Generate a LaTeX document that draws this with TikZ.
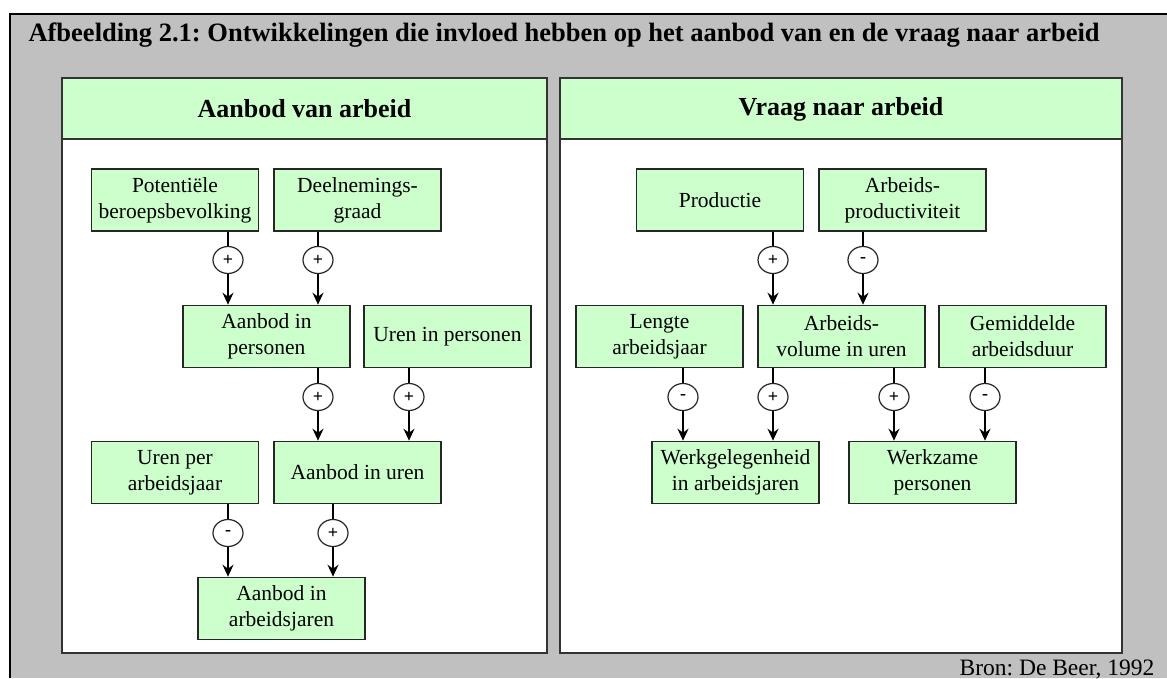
\documentclass[tikz,border=0pt]{standalone}
\usepackage{fontspec}
\setmainfont{Liberation Serif}
\usepackage{tikz}
\usetikzlibrary{arrows.meta,shapes.geometric}
\definecolor{panelgray}{HTML}{C0C0C0}
\definecolor{boxgreen}{HTML}{CCFFCC}
\frenchspacing

\begin{document}
\begin{tikzpicture}[x=1pt,y=-1pt,
    flowbox/.style={draw=black!85, line width=1.6pt, fill=boxgreen, minimum width=167pt, minimum height=62pt, align=center, inner sep=2pt, font=\fontsize{21.5}{26}\selectfont},
    signnode/.style={ellipse, draw=black!85, line width=1.2pt, fill=white, minimum width=30pt, minimum height=27pt, inner sep=0pt, font=\fontsize{18}{18}\selectfont\bfseries},
    panelframe/.style={draw=black!80, line width=2pt},
    flowline/.style={line width=1.6pt},
    flowarrow/.style={line width=1.6pt, -{Stealth[length=12pt,width=11pt,inset=4pt]}}]
    \useasboundingbox (0,0) rectangle (1167,678);
    \fill[panelgray] (10,14) rectangle (1167,678);
    \draw[line width=2.5pt] (1167,14) -- (10,14) -- (10,678);

    % panels
    \draw[panelframe, fill=white] (62,78) rectangle (547,653);
    \draw[panelframe, fill=boxgreen] (62,78) rectangle (547,139);
    \draw[panelframe, fill=white] (560,78) rectangle (1122,653);
    \draw[panelframe, fill=boxgreen] (560,78) rectangle (1122,139);

    \node[anchor=base west, font=\fontsize{26.5}{30}\selectfont\bfseries] (title) at (25,41) {Afbeelding 2.1: Ontwikkelingen die invloed hebben op het aanbod van en de vraag naar arbeid};
    \node[font=\fontsize{26}{30}\selectfont\bfseries] (supplyhead) at (304.5,109) {Aanbod van arbeid};
    \node[font=\fontsize{26}{30}\selectfont\bfseries] (demandhead) at (841,109) {Vraag naar arbeid};
    \node[anchor=base east, font=\fontsize{23.5}{26}\selectfont] (source) at (1158,675) {Bron: De Beer, 1992};

    % aanbod
    \node[flowbox] (pot) at (175,200) {Potentiële\\beroepsbevolking};
    \node[flowbox] (deel) at (357.5,200) {Deelnemings-\\graad};
    \node[flowbox] (aip) at (266.5,336.5) {Aanbod in\\personen};
    \node[flowbox] (uip) at (447.5,336.5) {Uren in personen};
    \node[flowbox] (upa) at (175,472.5) {Uren per\\arbeidsjaar};
    \node[flowbox] (aiu) at (357.5,472.5) {Aanbod in uren};
    \node[flowbox] (aia) at (281.5,608.5) {Aanbod in\\arbeidsjaren};

    \node[signnode] (s1) at (228,260) {+};
    \node[signnode] (s2) at (318,260) {+};
    \node[signnode] (s3) at (318,397) {+};
    \node[signnode] (s4) at (409,397) {+};
    \node[signnode] (s5) at (228,533) {-};
    \node[signnode] (s6) at (333,533) {+};

    % vraag
    \node[flowbox] (prod) at (720,200) {Productie};
    \node[flowbox] (apr) at (902.5,200) {Arbeids-\\productiviteit};
    \node[flowbox] (len) at (659.5,336.5) {Lengte\\arbeidsjaar};
    \node[flowbox] (avu) at (841.5,336.5) {Arbeids-\\volume in uren};
    \node[flowbox] (gem) at (1022.5,336.5) {Gemiddelde\\arbeidsduur};
    \node[flowbox] (wga) at (735.5,472.5) {Werkgelegenheid\\in arbeidsjaren};
    \node[flowbox] (wzp) at (932.5,472.5) {Werkzame\\personen};

    \node[signnode] (s7) at (773,260) {+};
    \node[signnode] (s8) at (863,260) {-};
    \node[signnode] (s9) at (683,397) {-};
    \node[signnode] (s10) at (773,397) {+};
    \node[signnode] (s11) at (894,397) {+};
    \node[signnode] (s12) at (985,397) {-};

    \foreach \s/\a/\b in {s1/pot/aip, s2/deel/aip, s3/aip/aiu, s4/uip/aiu, s5/upa/aia, s6/aiu/aia,
        s7/prod/avu, s8/apr/avu, s9/len/wga, s10/avu/wga, s11/avu/wzp, s12/gem/wzp} {
        \draw[flowline] (\s |- \a.south) -- (\s);
        \draw[flowarrow] (\s) -- (\s |- \b.north);
    }
\end{tikzpicture}
\end{document}
